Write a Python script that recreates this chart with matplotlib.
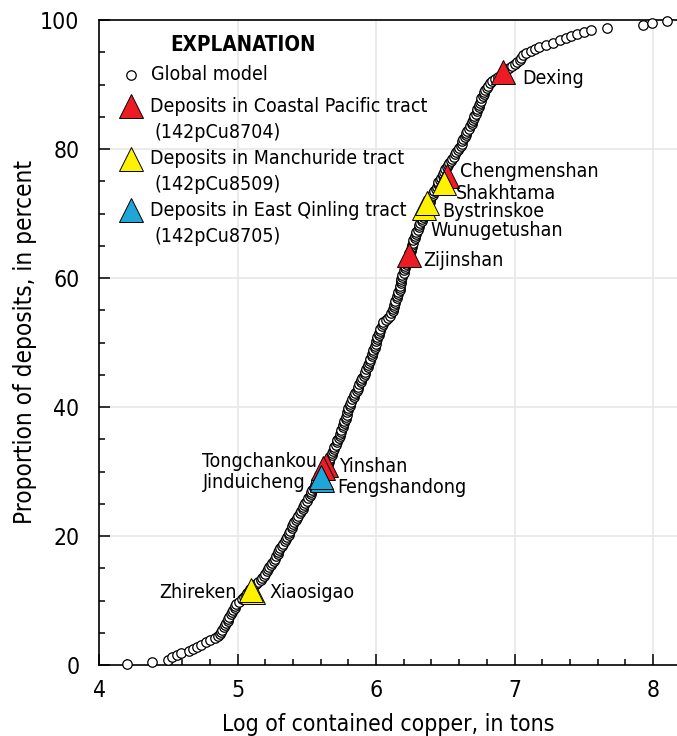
import matplotlib
matplotlib.use("Agg")
import matplotlib.pyplot as plt
import numpy as np

plt.rcParams['font.family'] = ['Liberation Sans Narrow', 'DejaVu Sans']
plt.rcParams['font.stretch'] = 'condensed'

# Global model: sorted log contained copper (tons), one value per deposit
global_x = [
    4.20, 4.38, 4.50, 4.53, 4.56, 4.59, 4.65, 4.68, 4.71, 4.74, 4.77, 4.80, 4.84, 4.86, 4.87,
    4.88, 4.89, 4.90, 4.91, 4.92, 4.93, 4.93, 4.94, 4.95, 4.96, 4.97, 4.98, 4.98, 4.99, 5.01,
    5.03, 5.05, 5.06, 5.07, 5.08, 5.09, 5.11, 5.13, 5.15, 5.17, 5.18, 5.19, 5.20, 5.21, 5.22,
    5.23, 5.24, 5.25, 5.26, 5.27, 5.28, 5.29, 5.29, 5.30, 5.31, 5.32, 5.33, 5.34, 5.35, 5.36,
    5.37, 5.37, 5.38, 5.39, 5.39, 5.40, 5.41, 5.42, 5.43, 5.44, 5.45, 5.46, 5.47, 5.47, 5.48,
    5.49, 5.50, 5.51, 5.52, 5.53, 5.53, 5.54, 5.55, 5.56, 5.57, 5.57, 5.58, 5.59, 5.59, 5.60,
    5.62, 5.63, 5.64, 5.65, 5.66, 5.66, 5.67, 5.68, 5.68, 5.69, 5.70, 5.70, 5.71, 5.72, 5.72,
    5.73, 5.74, 5.74, 5.75, 5.75, 5.76, 5.76, 5.77, 5.77, 5.78, 5.78, 5.79, 5.79, 5.80, 5.80,
    5.81, 5.81, 5.82, 5.83, 5.84, 5.84, 5.85, 5.86, 5.87, 5.87, 5.88, 5.89, 5.89, 5.90, 5.91,
    5.92, 5.92, 5.93, 5.94, 5.94, 5.95, 5.96, 5.96, 5.97, 5.97, 5.98, 5.98, 5.99, 5.99, 6.00,
    6.00, 6.01, 6.01, 6.02, 6.02, 6.03, 6.03, 6.04, 6.05, 6.05, 6.07, 6.09, 6.10, 6.11, 6.12,
    6.12, 6.13, 6.13, 6.14, 6.14, 6.15, 6.15, 6.16, 6.16, 6.17, 6.17, 6.17, 6.18, 6.18, 6.18,
    6.19, 6.19, 6.20, 6.20, 6.21, 6.21, 6.22, 6.22, 6.23, 6.23, 6.24, 6.24, 6.25, 6.25, 6.26,
    6.26, 6.27, 6.27, 6.28, 6.28, 6.29, 6.29, 6.30, 6.31, 6.31, 6.32, 6.33, 6.33, 6.34, 6.35,
    6.35, 6.36, 6.37, 6.37, 6.38, 6.39, 6.39, 6.40, 6.41, 6.41, 6.42, 6.43, 6.44, 6.45, 6.45,
    6.46, 6.47, 6.48, 6.48, 6.49, 6.50, 6.51, 6.52, 6.53, 6.54, 6.55, 6.56, 6.57, 6.58, 6.59,
    6.60, 6.61, 6.62, 6.62, 6.63, 6.64, 6.65, 6.65, 6.66, 6.67, 6.68, 6.69, 6.69, 6.70, 6.71,
    6.71, 6.72, 6.73, 6.73, 6.74, 6.74, 6.75, 6.76, 6.76, 6.77, 6.78, 6.78, 6.79, 6.80, 6.81,
    6.82, 6.84, 6.86, 6.88, 6.90, 6.92, 6.94, 6.96, 6.98, 7.00, 7.02, 7.04, 7.05, 7.06, 7.08,
    7.12, 7.15, 7.18, 7.23, 7.28, 7.33, 7.37, 7.41, 7.45, 7.50, 7.55, 7.67, 7.93, 7.99, 8.10,
]
n_global = len(global_x)
global_y = [(i + 0.5) / n_global * 100 for i in range(n_global)]

# Deposits by tract
red_names = ["Dexing", "Chengmenshan", "Zijinshan", "Tongchankou", "Yinshan"]
red_x = [6.92, 6.51, 6.24, 5.64, 5.62]
red_y = [91.9, 75.8, 63.5, 31.0, 30.5]

yellow_names = ["Wunugetushan", "Bystrinskoe", "Shakhtama", "Xiaosigao", "Zhireken"]
yellow_x = [6.35, 6.37, 6.49, 5.11, 5.10]
yellow_y = [70.9, 71.6, 74.8, 11.3, 11.6]

blue_names = ["Fengshandong", "Jinduicheng"]
blue_x = [5.61, 5.60]
blue_y = [28.7, 29.1]

# label offsets in pixels (dx, dy, ha)
label_offsets = {
    "Dexing": (19, -6, "left"),
    "Chengmenshan": (13, 5, "left"),
    "Shakhtama": (12, -11, "left"),
    "Bystrinskoe": (15, -8, "left"),
    "Wunugetushan": (6, -23, "left"),
    "Zijinshan": (14, -5, "left"),
    "Tongchankou": (-9, 4, "right"),
    "Yinshan": (16, 2, "left"),
    "Jinduicheng": (-15, -5, "right"),
    "Fengshandong": (15, -8, "left"),
    "Zhireken": (-15, -2, "right"),
    "Xiaosigao": (17, 0, "left"),
}

RED = "#ED1C24"
YELLOW = "#FFF200"
BLUE = "#1EA6D9"
FS = 14

fig = plt.figure(figsize=(6.77, 7.36), dpi=100)
ax = fig.add_axes([99 / 677, 71 / 736, 578 / 677, 645 / 736])
ax.set_xlim(4, 8.173)
ax.set_ylim(0, 100)

ax.set_xticks([4, 5, 6, 7, 8])
ax.set_xticks(np.arange(4, 8.17, 0.2), minor=True)
ax.set_yticks([0, 20, 40, 60, 80, 100])
ax.set_yticks(np.arange(0, 101, 5), minor=True)
ax.tick_params(which='both', direction='in', width=1.1, labelsize=16.5)
ax.tick_params(which='major', length=8)
ax.tick_params(which='minor', length=4.5)
ax.tick_params(axis='y', which='major', pad=14)
ax.tick_params(axis='x', which='major', pad=10)
ax.spines['right'].set_visible(False)
for s in ['left', 'top', 'bottom']:
    ax.spines[s].set_linewidth(1.2)

for gx in [5, 6, 7, 8]:
    ax.axvline(gx, color='#e8e8e8', lw=1.2, zorder=0)
for gy in [20, 40, 60, 80]:
    ax.axhline(gy, color='#e8e8e8', lw=1.2, zorder=0)

ax.plot(global_x, global_y, 'o', ms=6.8, mfc='white', mec='black', mew=0.9, zorder=3,
        clip_on=False)

def draw_group(xs, ys, names, color, z):
    ax.plot(xs, ys, '^', ms=17, mfc=color, mec='black', mew=0.7, zorder=z, ls='none')
    for name, x, y in zip(names, xs, ys):
        dx, dy, ha = label_offsets[name]
        ax.annotate(name, (x, y), xytext=(dx, dy), textcoords='offset pixels',
                    ha=ha, va='center', fontsize=FS, zorder=6)

draw_group(red_x, red_y, red_names, RED, 4)
draw_group(yellow_x, yellow_y, yellow_names, YELLOW, 4.5)
draw_group(blue_x, blue_y, blue_names, BLUE, 5)

ax.set_xlabel("Log of contained copper, in tons", fontsize=16.5, labelpad=8)
ax.set_ylabel("Proportion of deposits, in percent", fontsize=17.5, labelpad=2)

# Explanation block (axes-fraction positions)
def fx(px):
    return (px - 99) / 578
def fy(py):
    return (665 - py) / 645

ax.text(fx(170), fy(45), "EXPLANATION", fontsize=14.8, fontweight='bold', ha='left',
        va='center', transform=ax.transAxes)
ax.plot([fx(131)], [fy(75)], 'o', ms=6.8, mfc='white', mec='black', mew=0.9,
        transform=ax.transAxes)
ax.text(fx(151), fy(75), "Global model", fontsize=FS, ha='left', va='center',
        transform=ax.transAxes)
legend_items = [
    (RED, "Deposits in Coastal Pacific tract", "(142pCu8704)", 106),
    (YELLOW, "Deposits in Manchuride tract", "(142pCu8509)", 159),
    (BLUE, "Deposits in East Qinling tract", "(142pCu8705)", 210),
]
for color, l1, l2, py in legend_items:
    ax.plot([fx(131)], [fy(py)], '^', ms=17, mfc=color, mec='black', mew=0.7,
            transform=ax.transAxes)
    ax.text(fx(150), fy(py), l1, fontsize=FS, ha='left', va='center',
            transform=ax.transAxes)
    ax.text(fx(155), fy(py + 26), l2, fontsize=FS, ha='left', va='center',
            transform=ax.transAxes)

fig.savefig("out.png", dpi=100)
